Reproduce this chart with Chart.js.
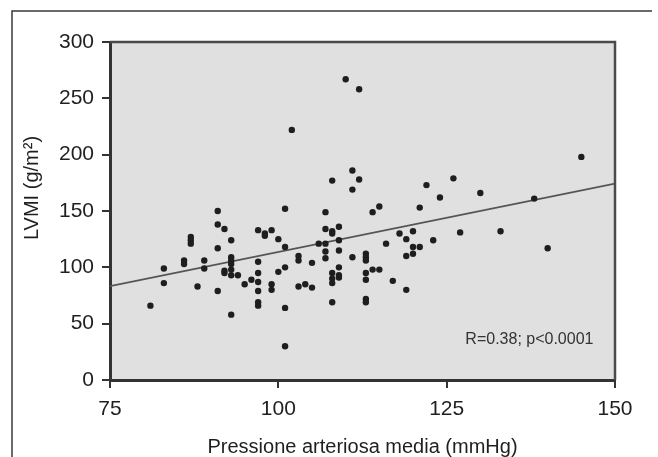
<!DOCTYPE html>
<html lang="it">
<head>
  <meta charset="UTF-8">
  <title>LVMI vs Pressione arteriosa media</title>
  <script src="https://cdn.jsdelivr.net/npm/chart.js"></script>
  <style>
    * { margin: 0; padding: 0; box-sizing: border-box; }
    body { background: #ffffff; }
    .wrap { width: 658px; height: 457px; }
  </style>
</head>
<body>

<div class="wrap"><canvas id="lvmiChart" width="658" height="457"></canvas></div>

<script>
// pressione arteriosa media (mmHg) e LVMI (g/m2)
const pamX = [
  81, 83, 83, 86, 86, 87, 87, 87, 88, 89, 89,
  91, 91, 91, 91, 92, 92, 92, 93, 93, 93, 93, 93, 93, 93,
  94, 95, 96, 97, 97, 97, 97, 97, 97, 97, 98, 98, 99, 99, 99,
  100, 100, 101, 101, 101, 101, 101, 102, 103, 103, 103, 104, 105, 105,
  106, 107, 107, 107, 107, 107, 108, 108, 108, 108, 108, 108, 108,
  109, 109, 109, 109, 109, 109, 110, 111, 111, 111, 112, 112,
  113, 113, 113, 113, 113, 113, 113, 114, 114, 115, 115, 116, 117, 118,
  119, 119, 119, 120, 120, 120, 121, 121, 122, 123, 124, 126, 127,
  130, 133, 138, 140, 145
];
const lvmiY = [
  66, 99, 86, 106, 103, 127, 124, 121, 83, 106, 99,
  150, 138, 117, 79, 134, 97, 95, 124, 109, 106, 103, 98, 93, 58,
  93, 85, 89, 133, 105, 95, 87, 79, 69, 66, 130, 128, 133, 85, 80,
  125, 96, 152, 118, 100, 64, 30, 222, 110, 106, 83, 85, 82, 104,
  121, 149, 134, 121, 114, 108, 177, 132, 130, 95, 90, 86, 69,
  136, 124, 115, 100, 93, 91, 267, 186, 169, 109, 258, 178,
  112, 109, 106, 95, 89, 72, 69, 149, 98, 154, 98, 121, 88, 130,
  125, 110, 80, 132, 118, 112, 153, 118, 173, 124, 162, 179, 131,
  166, 132, 161, 117, 198
];

// retta di regressione (estremi)
const fitX = [75, 150];
const fitY = [83.3, 174.4];

const xTicks = [75, 100, 125, 150];
const yTicks = [0, 50, 100, 150, 200, 250, 300];

const statText = 'R=0.38; p<0.0001';
const yTitle = 'LVMI (g/m\u00B2)';
const xTitle = 'Pressione arteriosa media (mmHg)';

const FONT = "'Liberation Sans', Arial, sans-serif";
const INK = '#1f1f1f';

const scatterPts = pamX.map((x, i) => ({ x, y: lvmiY[i] }));
const fitPts = fitX.map((x, i) => ({ x, y: fitY[i] }));

const frame = {
  id: 'frame',
  beforeDraw(chart) {
    const { ctx, chartArea: a } = chart;
    ctx.save();
    ctx.fillStyle = '#ffffff';
    ctx.fillRect(0, 0, chart.width, chart.height);
    // cornice della figura (solo lati sinistro e superiore)
    ctx.strokeStyle = '#3a3a3a';
    ctx.lineWidth = 1.5;
    ctx.beginPath();
    ctx.moveTo(12, chart.height);
    ctx.lineTo(12, 11);
    ctx.lineTo(chart.width - 6, 11);
    ctx.stroke();
    // sfondo grigio dell'area del grafico
    ctx.fillStyle = '#e0e0e0';
    ctx.fillRect(a.left, a.top, a.right - a.left, a.bottom - a.top);
    ctx.restore();
  },
  afterDraw(chart) {
    const { ctx, chartArea: a, scales } = chart;
    ctx.save();
    // bordo superiore e destro
    ctx.strokeStyle = '#4a4a4a';
    ctx.lineWidth = 2.5;
    ctx.beginPath();
    ctx.moveTo(a.left, a.top);
    ctx.lineTo(a.right, a.top);
    ctx.lineTo(a.right, a.bottom);
    ctx.stroke();

    // titolo asse y
    ctx.fillStyle = INK;
    ctx.font = '20px ' + FONT;
    ctx.textAlign = 'center';
    ctx.textBaseline = 'middle';
    ctx.translate(a.left - 78, (a.top + a.bottom) / 2 - 23);
    ctx.rotate(-Math.PI / 2);
    ctx.fillText(yTitle, 0, 0);
    ctx.restore();

    // testo statistico
    ctx.save();
    ctx.fillStyle = '#333333';
    ctx.font = '16px ' + FONT;
    ctx.textAlign = 'right';
    ctx.textBaseline = 'middle';
    ctx.fillText(statText, scales.x.getPixelForValue(146.8), scales.y.getPixelForValue(35.5));
    ctx.restore();
  }
};

new Chart(document.getElementById('lvmiChart'), {
  type: 'scatter',
  data: {
    datasets: [
      {
        label: 'LVMI',
        data: scatterPts,
        backgroundColor: '#1e1e1e',
        borderColor: '#1e1e1e',
        pointRadius: 3.2,
        pointBorderWidth: 0,
        pointHoverRadius: 3.2
      },
      {
        type: 'line',
        label: 'Regressione',
        data: fitPts,
        borderColor: '#555555',
        borderWidth: 1.8,
        pointRadius: 0,
        fill: false,
        tension: 0
      }
    ]
  },
  options: {
    responsive: false,
    animation: false,
    events: [],
    layout: { padding: { top: 42, right: 43, left: 0, bottom: 0 } },
    plugins: {
      legend: { display: false },
      tooltip: { enabled: false }
    },
    scales: {
      x: {
        type: 'linear',
        min: 75,
        max: 150,
        afterBuildTicks: s => { s.ticks = xTicks.map(v => ({ value: v })); },
        afterFit: s => { s.height = 77; },
        grid: { display: true, drawOnChartArea: false, drawTicks: true, tickLength: 8, color: '#333', lineWidth: 2 },
        border: { display: true, color: '#333', width: 3 },
        ticks: { color: INK, font: { family: FONT, size: 21 }, padding: 9, maxRotation: 0 },
        title: { display: true, text: xTitle, color: INK, font: { family: FONT, size: 20 }, padding: { top: 0, bottom: -2 } }
      },
      y: {
        type: 'linear',
        min: 0,
        max: 300,
        afterBuildTicks: s => { s.ticks = yTicks.map(v => ({ value: v })); },
        afterFit: s => { s.width = 110; },
        grid: { display: true, drawOnChartArea: false, drawTicks: true, tickLength: 8, color: '#333', lineWidth: 2 },
        border: { display: true, color: '#333', width: 3 },
        ticks: { color: INK, font: { family: FONT, size: 21 }, padding: 8 }
      }
    }
  },
  plugins: [frame]
});
</script>

</body>
</html>
